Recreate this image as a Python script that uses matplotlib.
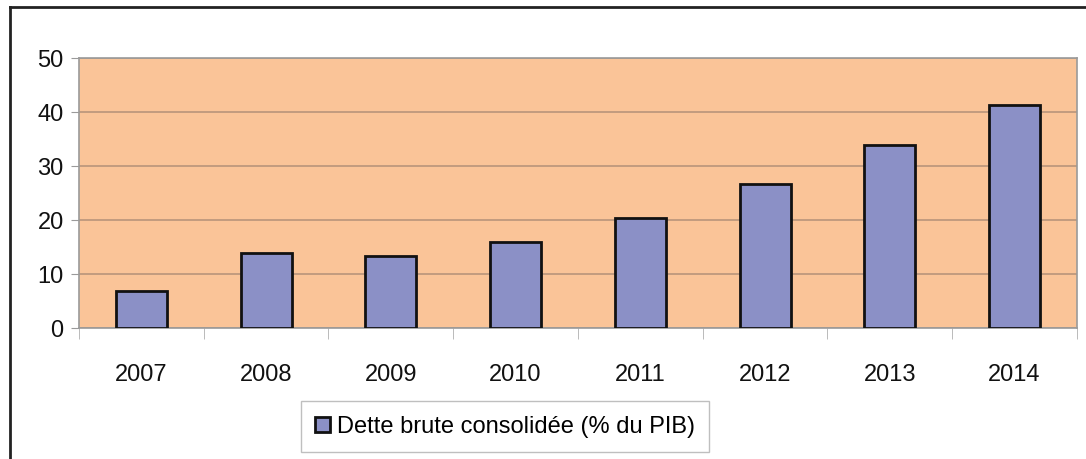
import numpy as np
import matplotlib.pyplot as plt
from matplotlib.lines import Line2D

# Data
years = ['2007', '2008', '2009', '2010', '2011', '2012', '2013', '2014']
dette = [6.9, 13.8, 13.4, 15.9, 20.4, 26.6, 33.9, 41.3]
legend_label = 'Dette brute consolidée (% du PIB)'

plt.rcParams['font.family'] = ['Liberation Sans', 'DejaVu Sans']


def main():
    fig = plt.figure(figsize=(10.86, 4.59), dpi=100)
    ax = fig.add_axes([0.0727, 0.2854, 0.919, 0.5882])

    x = np.arange(len(years))
    ax.set_facecolor('#fac498')
    ax.set_axisbelow(True)
    ax.yaxis.grid(True, color='#b8957a', linewidth=1.2)
    ax.bar(x, dette, width=0.41, color='#8b90c6', edgecolor='#111111',
           linewidth=2.0, label=legend_label, zorder=3)

    ax.set_xlim(-0.5, len(years) - 0.5)
    ax.set_ylim(0, 50)
    ax.set_yticks(range(0, 51, 10))
    ax.set_xticks(x)
    ax.set_xticklabels(years)
    ax.set_xticks(np.arange(-0.5, len(years)), minor=True)

    for s in ax.spines.values():
        s.set_color('#9a9a9a')
        s.set_linewidth(1.2)

    ax.tick_params(axis='y', length=6, color='#9a9a9a', labelsize=17,
                   pad=5, labelcolor='#111111')
    ax.tick_params(axis='x', which='major', length=0, labelsize=17,
                   pad=26, labelcolor='#111111')
    ax.tick_params(axis='x', which='minor', length=8, color='#b0b0b0')

    leg = ax.legend(loc='center', bbox_to_anchor=(0.427, -0.365),
                    fontsize=17, frameon=True, fancybox=False,
                    handlelength=0.6, handleheight=0.6, handletextpad=0.3,
                    borderpad=0.6, borderaxespad=0)
    leg.get_frame().set_edgecolor('#b0b0b0')
    leg.get_frame().set_linewidth(1.0)

    # outer frame (left and top)
    fig.add_artist(Line2D([0.0092, 0.0092], [0.0, 0.985], color='#222222',
                          linewidth=2, transform=fig.transFigure))
    fig.add_artist(Line2D([0.0092, 1.0], [0.985, 0.985], color='#222222',
                          linewidth=2, transform=fig.transFigure))

    fig.savefig('out.png', dpi=100)


if __name__ == "__main__":
    main()
